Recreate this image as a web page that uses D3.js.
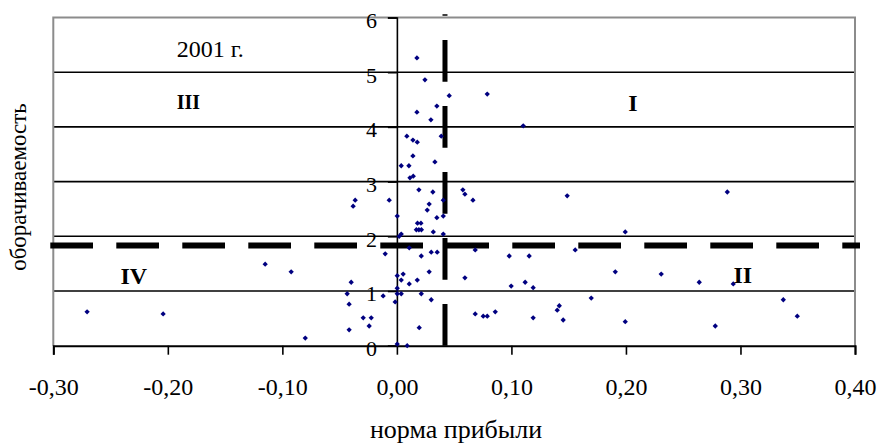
<!DOCTYPE html>
<html><head><meta charset="utf-8">
<script src="https://cdn.jsdelivr.net/npm/d3@7"></script>
<style>
html,body{margin:0;padding:0;background:#fff;}
svg{display:block;font-family:"Liberation Serif","Times New Roman",serif;}
</style></head>
<body>
<svg id="chart" width="879" height="443"></svg>
<script>
// ---- data ----
const xTicks = [-0.30, -0.20, -0.10, 0.00, 0.10, 0.20, 0.30, 0.40];
const yTicks = [0, 1, 2, 3, 4, 5, 6];
const gridValues = [1, 2, 3, 4, 5];
// норма прибыли
const profitRate = [
  0.0175, 0.0245, 0.0457, 0.0789, 0.0349, 0.0175, 0.0297, 0.1103, 0.0087, 0.0140,
  0.0178, 0.0387, 0.0140, 0.0332, 0.0038, 0.0105, 0.0143, 0.0114, 0.0192, 0.0314,
  0.0576, 0.0594, 0.0664, 0.0405, -0.0364, -0.0382, -0.0067, 0.0282, 0.0265, 0.0003,
  0.0349, 0.0405, 0.0180, 0.0210, 0.0170, 0.0192, 0.0214, 0.0318, 0.0405, 0.0038,
  0.0020, 0.0108, -0.0102, 0.0213, 0.0300, 0.0352, 0.0684, 0.0981, 0.1155, 0.0282,
  0.0594, 0.0003, 0.0055, 0.0038, 0.0178, 0.0108, -0.0399, -0.0434, -0.0417, -0.0120,
  0.0003, 0.0003, 0.0038, -0.0015, 0.0213, 0.0300, 0.0998, 0.1120, 0.1190, 0.0684,
  0.0754, 0.0789, 0.0859, 0.1190, -0.0294, -0.0224, -0.0242, -0.0417, 0.0195, 0.0003,
  0.0090, -0.0800, 0.1487, 0.2885, 0.1994, 0.1557, 0.1907, 0.2308, 0.2640, 0.2937,
  0.1697, 0.3374, 0.1418, 0.1400, 0.1452, 0.1994, 0.2780, 0.3496, -0.1150, -0.0923,
  -0.2705, -0.2041
];
// оборачиваемость
const turnover = [
  5.26, 4.86, 4.57, 4.60, 4.38, 4.27, 4.13, 4.02, 3.83, 3.76,
  3.72, 3.83, 3.47, 3.36, 3.29, 3.29, 3.10, 3.07, 2.85, 2.81,
  2.85, 2.77, 2.66, 2.66, 2.66, 2.55, 2.66, 2.59, 2.48, 2.37,
  2.34, 2.37, 2.24, 2.24, 2.12, 2.12, 2.12, 2.08, 2.04, 2.04,
  2.00, 1.79, 1.68, 1.64, 1.71, 1.71, 1.75, 1.64, 1.64, 1.35,
  1.24, 1.28, 1.31, 1.20, 1.20, 1.13, 1.16, 0.95, 0.76, 0.91,
  1.05, 0.95, 0.95, 0.80, 0.95, 0.84, 1.09, 1.16, 1.06, 0.58,
  0.54, 0.54, 0.62, 0.51, 0.51, 0.51, 0.36, 0.29, 0.33, 0.03,
  0.00, 0.14, 2.74, 2.81, 2.08, 1.75, 1.35, 1.31, 1.16, 1.13,
  0.87, 0.84, 0.73, 0.65, 0.47, 0.44, 0.36, 0.54, 1.49, 1.35,
  0.62, 0.58
];
const thresholdX = 0.042;   // средняя норма прибыли
const thresholdY = 1.83;    // средняя оборачиваемость
const quadrantNames = ["I", "II", "III", "IV"];
const yearLabel = "2001 г.";
const xTitle = "норма прибыли";
const yTitle = "оборачиваемость";

// ---- chart ----
const svg = d3.select("#chart");
const mLeft = 53.3, mRight = 855, mTop = 17.5, mBottom = 345.7;
const x = d3.scaleLinear().domain([-0.30, 0.40]).range([mLeft, mRight]);
const y = d3.scaleLinear().domain([0, 6]).range([mBottom, mTop]);
const locale = d3.formatLocale({decimal: ",", thousands: " ", grouping: [3], currency: ["", ""], minus: "-"});
const fmt = locale.format(".2f");

// grid
svg.append("g").selectAll("line").data(gridValues).join("line")
  .attr("x1", mLeft).attr("x2", mRight)
  .attr("y1", d => y(d)).attr("y2", d => y(d))
  .attr("stroke", "#000").attr("stroke-width", 1.6);

// plot border (top, right, left)
svg.append("path")
  .attr("d", `M${mLeft},${mBottom}V${mTop}H${mRight}V${mBottom}`)
  .attr("fill", "none").attr("stroke", "#8c8c8c").attr("stroke-width", 2);

// x axis
const xAxis = svg.append("g").attr("transform", `translate(0,${mBottom})`)
  .call(d3.axisBottom(x).tickValues(xTicks).tickFormat(fmt).tickSize(9).tickPadding(23));
xAxis.select(".domain").attr("stroke-width", 2);
xAxis.selectAll(".tick line").attr("stroke-width", 1.6);
xAxis.selectAll("text").attr("font-size", 24).attr("font-family", "Liberation Serif, serif").attr("fill", "#000");

// y axis at x = 0
const yAxis = svg.append("g").attr("transform", `translate(${x(0)},0)`)
  .call(d3.axisLeft(y).tickValues(yTicks).tickFormat(d3.format("d")).tickSize(9).tickPadding(11));
yAxis.select(".domain").attr("stroke-width", 1.6);
yAxis.selectAll(".tick line").attr("stroke-width", 1.6);
yAxis.selectAll("text").attr("font-size", 22).attr("font-family", "Liberation Serif, serif").attr("fill", "#000").attr("dy", "0.45em");

// threshold dashed lines
svg.append("line")
  .attr("x1", x(-0.30) - 3).attr("x2", x(0.40) + 5)
  .attr("y1", y(thresholdY)).attr("y2", y(thresholdY))
  .attr("stroke", "#000").attr("stroke-width", 6).attr("stroke-dasharray", "42.7,23.3");
svg.append("line")
  .attr("x1", x(thresholdX)).attr("x2", x(thresholdX))
  .attr("y1", y(0)).attr("y2", y(6) - 3.2)
  .attr("stroke", "#000").attr("stroke-width", 5).attr("stroke-dasharray", "41.7,24.3");

// points
const pts = profitRate.map((v, i) => [v, turnover[i]]);
const sym = d3.symbol().type(d3.symbolSquare).size(14);
svg.append("g").selectAll("path").data(pts).join("path")
  .attr("d", sym)
  .attr("transform", d => `translate(${x(d[0])},${y(d[1])}) rotate(45)`)
  .attr("fill", "#000080");

// annotations
const ann = svg.append("g").attr("fill", "#000").attr("text-anchor", "middle");
ann.append("text").attr("x", x(-0.163)).attr("y", y(5.27)).attr("font-size", 24).text(yearLabel);
const quadPos = {"I": [0.206, 4.29], "II": [0.302, 1.15], "III": [-0.182, 4.32], "IV": [-0.2297, 1.13]};
quadrantNames.forEach(q => {
  ann.append("text").attr("x", x(quadPos[q][0])).attr("y", y(quadPos[q][1]))
    .attr("font-size", q === "III" ? 20 : 24).attr("font-weight", "bold").text(q);
});

// axis titles
svg.append("text").attr("x", 456).attr("y", 438).attr("text-anchor", "middle")
  .attr("font-size", 26).text(xTitle);
svg.append("text").attr("transform", "translate(26,187) rotate(-90)").attr("text-anchor", "middle")
  .attr("font-size", 23).text(yTitle);
</script>
</body></html>
